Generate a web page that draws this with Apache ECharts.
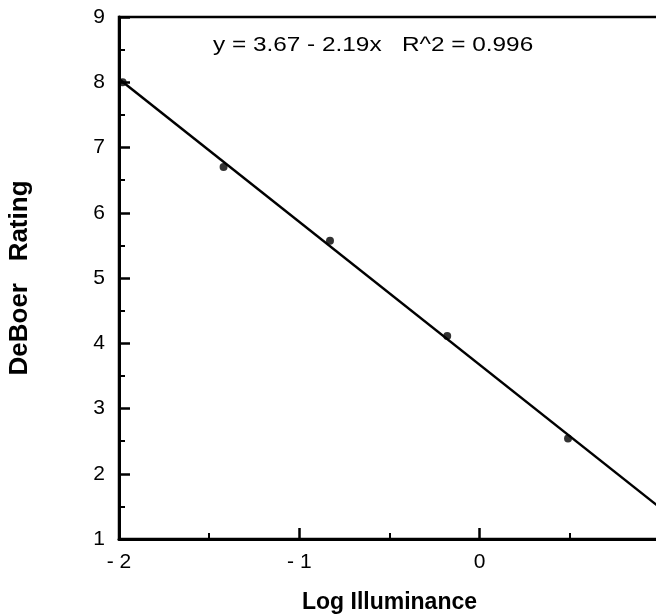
<!DOCTYPE html>
<html>
<head>
<meta charset="utf-8">
<script src="https://cdn.jsdelivr.net/npm/echarts@6/dist/echarts.min.js"></script>
<style>html,body{margin:0;padding:0;background:#fff}#c{width:656px;height:616px}</style>
</head>
<body>
<div id="c"></div>
<script>
var logIlluminance = [-1.98, -1.42, -0.83, -0.18, 0.49];
var deBoerRating = [8.0, 6.70, 5.57, 4.11, 2.54];
var fitLine = [[-2, 8.05], [1, 1.48]];
var xTickLabels = {'-2': '- 2', '-1': '- 1', '0': '0', '1': '1'};
var annotation = 'y = 3.67 - 2.19x   R^2 = 0.996';

var chart = echarts.init(document.getElementById('c'), null, {renderer: 'canvas'});
var font = 'Liberation Sans, Arial, Helvetica, sans-serif';
chart.setOption({
  animation: false,
  backgroundColor: '#fff',
  grid: {left: 119, top: 17, right: -4, bottom: 77, containLabel: false, outerBoundsMode: 'none',
    show: true, borderColor: '#000', borderWidth: 2.5, backgroundColor: 'transparent'},
  xAxis: {
    type: 'value', min: -2, max: 1, interval: 1,
    name: 'Log Illuminance', nameLocation: 'middle', nameGap: 52,
    nameTextStyle: {fontFamily: font, fontWeight: 'bold', fontSize: 23, color: '#000'},
    axisLine: {show: true, onZero: false, lineStyle: {color: '#000', width: 3}},
    axisTick: {show: true, inside: true, length: 11, lineStyle: {color: '#000', width: 2.5}},
    minorTick: {show: true, splitNumber: 2, length: 6, lineStyle: {color: '#000', width: 2}},
    splitLine: {show: false},
    axisLabel: {showMaxLabel: false, margin: 13, fontFamily: font, fontSize: 21, color: '#000',
      formatter: function (v) { return xTickLabels[String(v)] !== undefined ? xTickLabels[String(v)] : String(v); }}
  },
  yAxis: {
    type: 'value', min: 1, max: 9, interval: 1,
    name: 'DeBoer   Rating', nameLocation: 'middle', nameGap: 86, nameRotate: 90,
    nameTextStyle: {fontFamily: font, fontWeight: 'bold', fontSize: 26, color: '#000'},
    axisLine: {show: true, onZero: false, lineStyle: {color: '#000', width: 3}},
    axisTick: {show: true, inside: true, length: 11, lineStyle: {color: '#000', width: 2.5}},
    minorTick: {show: true, splitNumber: 2, length: 6, lineStyle: {color: '#000', width: 2}},
    splitLine: {show: false},
    axisLabel: {margin: 14, fontFamily: font, fontSize: 21, color: '#000'}
  },
  graphic: [{
    type: 'text', x: 213, y: 35, scaleX: 1.16,
    style: {text: annotation, fontFamily: font, fontSize: 21, fill: '#000'}
  }],
  series: [
    {type: 'line', data: fitLine, symbol: 'none', lineStyle: {color: '#000', width: 2.5}, z: 2},
    {type: 'scatter', data: logIlluminance.map(function (x, i) { return [x, deBoerRating[i]]; }),
      symbol: 'circle', symbolSize: 8, itemStyle: {color: '#000'}, z: 3}
  ]
});
</script>
</body>
</html>
